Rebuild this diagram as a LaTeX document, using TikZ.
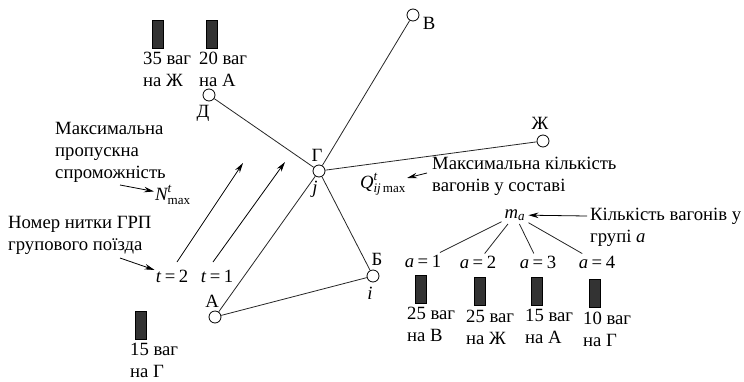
\documentclass[tikz,border=0pt]{standalone}
\usepackage{amsmath}
\usepackage{fontspec}
\setmainfont{Liberation Serif}
\usetikzlibrary{arrows.meta}
\newcommand{\eqlbl}[2]{\textit{#1}\kern3.5pt=\kern3.5pt#2}
\begin{document}
\begin{tikzpicture}[x=1pt,y=-1pt,
  every node/.style={font=\fontsize{18.7}{22}\selectfont},
  station/.style={circle, draw, fill=white, inner sep=0pt, minimum size=12pt, line width=0.8pt},
  lbl/.style={inner sep=1pt},
  txt/.style={inner sep=0pt, align=left, anchor=west},
  wagon/.style={draw, fill=black!80, minimum width=11pt, minimum height=28pt, inner sep=0pt, line width=0.6pt},
  track/.style={line width=0.8pt, draw=black!85},
  pointer/.style={-{Stealth[length=10pt,width=5.5pt]}, line width=0.8pt},
  branch/.style={line width=0.8pt, draw=black!85}]
\useasboundingbox (0,0) rectangle (744,381);

% stations
\node[station] (G) at (319,171) {};
\node[station] (D) at (209,95) {};
\node[station] (V) at (413,15) {};
\node[station] (Zh) at (543,141) {};
\node[station] (B) at (373,276) {};
\node[station] (A) at (215,317) {};

% network
\draw[track] (G) -- (D);
\draw[track] (G) -- (V);
\draw[track] (G) -- (Zh);
\draw[track] (G) -- (B);
\draw[track] (G) -- (A);
\draw[track] (A) -- (B);

% station names
\node[lbl] (lG) at (317,155) {Г};
\node[lbl] (lj) at (315,189) {\textit{j}};
\node[lbl] (lD) at (203,113) {Д};
\node[lbl] (lV) at (429,23) {В};
\node[lbl] (lZh) at (540,123) {Ж};
\node[lbl] (lB) at (377,259) {Б};
\node[lbl] (li) at (370,293) {\textit{i}};
\node[lbl] (lA) at (212,301) {А};

% threads of the group train
\node[lbl] (t2) at (172,276) {\eqlbl{t}{2}};
\node[lbl] (t1) at (217,276) {\eqlbl{t}{1}};
\coordinate (t2s) at (177,262);
\coordinate (t2e) at (243,163);
\coordinate (t1s) at (213,262);
\coordinate (t1e) at (285,162);
\draw[pointer] (t2s) -- (t2e);
\draw[pointer] (t1s) -- (t1e);

% capacity
\node[txt] (cap) at (55,152) {Максимальна\\пропускна\\спроможність};
\node[lbl] (Nmax) at (173,195) {$\textit{N}^{\textit{t}}_{\mathrm{max}}$};
\coordinate (capArr) at (120,185);
\draw[pointer] (capArr) -- (Nmax);

% thread number
\node[txt] (thr) at (8,235) {Номер нитки ГРП\\групового поїзда};
\coordinate (thrArr) at (120,258);
\draw[pointer] (thrArr) -- (t2);

% train length
\node[lbl] (Q) at (383,184) {$\textit{Q}^{\textit{t}}_{\textit{ij}\,\mathrm{max}}$};
\node[txt] (qtxt) at (432,176) {Максимальна кількість\\вагонів у составі};
\coordinate (qArr) at (427,173);
\draw[pointer] (qArr) -- (Q);

% wagon groups
\node[lbl, inner sep=3pt] (ma) at (515,215) {$\textit{m}_{\textit{a}}$};
\node[txt] (mtxt) at (590,227) {Кількість вагонів у\\групі \textit{a}};
\coordinate (mArr) at (587,216);
\draw[pointer] (mArr) -- (ma);

\node[lbl, inner sep=2pt] (a1) at (423,261) {\eqlbl{a}{1}};
\node[lbl, inner sep=2pt] (a2) at (478,262) {\eqlbl{a}{2}};
\node[lbl, inner sep=2pt] (a3) at (538,262) {\eqlbl{a}{3}};
\node[lbl, inner sep=2pt] (a4) at (597,262) {\eqlbl{a}{4}};
\draw[branch] (ma) -- (a1);
\draw[branch] (ma) -- (a2);
\draw[branch] (ma) -- (a3);
\draw[branch] (ma) -- (a4);

\node[wagon] (w1) at (421,289) {};
\node[wagon] (w2) at (480,291) {};
\node[wagon] (w3) at (537,291) {};
\node[wagon] (w4) at (595,293) {};
\node[txt] (g1) at (407,324) {25 ваг\\на В};
\node[txt] (g2) at (466,327) {25 ваг\\на Ж};
\node[txt] (g3) at (525,326) {15 ваг\\на А};
\node[txt] (g4) at (583,329) {10 ваг\\на Г};

% wagons standing at stations
\node[wagon] (wD1) at (158,34) {};
\node[wagon] (wD2) at (212,34) {};
\node[txt] (gD1) at (143,69) {35 ваг\\на Ж};
\node[txt] (gD2) at (199,69) {20 ваг\\на А};

\node[wagon] (wA) at (141,325) {};
\node[txt] (gA) at (130,360) {15 ваг\\на Г};
\end{tikzpicture}
\end{document}
